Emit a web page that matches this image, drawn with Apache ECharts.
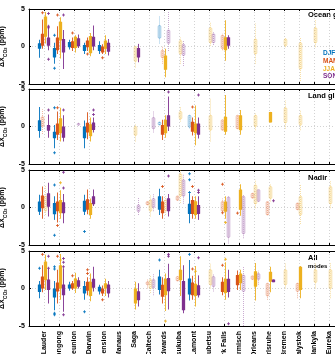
<!DOCTYPE html>
<html><head><meta charset="utf-8">
<script src="https://cdn.jsdelivr.net/npm/echarts@6/dist/echarts.min.js"></script>
<style>html,body{margin:0;padding:0;background:#fff}#c{width:335px;height:354px}</style>
</head><body><div id="c"></div>
<script>
const stations = ['Lauder','Wollongong','Reunion','Darwin','Ascension','Manaus','Saga','Caltech','Edwards','Tsukuba','Lamont','Rikubetsu','Park Falls','Garmisch','Orleans','Karlsruhe','Bremen','Bialystok','Sodankyla','Eureka'];
const seasons = ['DJF','MAM','JJA','SON'];
const seasonColors = ['#0072BD','#D95319','#EDB120','#7E2F8E'];
const panelTitles = ['Ocean glint','Land glint','Nadir','All modes'];
const yTicks = [-5, 0, 5];

// rows: [station (1-based), season index, low whisker, q1, median, q3, high whisker, faded]
const oceanBoxes = [
 [1,0,-1.5,-0.3,0.1,0.45,0.9,0],[1,1,-0.3,0.1,0.9,1.7,3.6,0],[1,2,0.4,1.3,3.0,4.0,4.6,0],[1,3,-0.5,0.1,0.7,1.2,2.6,0],
 [2,0,-2.3,-1.45,-0.8,-0.2,0.5,0],[2,1,-1.0,-0.5,0.3,1.2,2.7,0],[2,2,-1.6,0.8,2.0,3.3,3.9,0],[2,3,-3.0,-0.8,0.1,1.0,2.2,0],
 [3,0,-0.4,-0.1,0.2,0.6,0.9,0],[3,1,-0.6,-0.2,0.2,0.7,1.2,0],[3,2,-0.8,-0.2,0.5,1.3,1.5,0],[3,3,-0.2,0.05,0.6,1.1,1.6,0],
 [4,0,-1.0,-0.6,-0.2,0.2,0.5,0],[4,1,-0.6,-0.1,0.3,0.8,1.2,0],[4,2,-1.3,-0.9,0.2,1.4,1.8,0],[4,3,-0.5,0.0,0.6,1.3,2.8,0],
 [5,0,-1.0,-0.6,-0.2,0.2,0.7,0],[5,1,-1.0,-0.8,-0.4,0.0,0.3,0],[5,2,-1.0,-0.3,0.3,0.8,1.5,0],[5,3,-1.2,-0.7,-0.1,0.5,1.0,0],
 [7,2,-2.8,-2.0,-1.0,0.0,0.1,1],[7,3,-2.1,-1.45,-0.8,-0.2,0.35,0],
 [9,0,0.4,1.1,1.9,2.8,4.0,1],[9,1,-2.3,-1.5,-1.0,-0.5,0.0,1],[9,2,-4.1,-3.1,-2.0,-1.2,-0.3,0],[9,3,-0.6,0.4,1.3,2.2,4.6,1],
 [10,2,-2.3,-1.0,0.0,0.8,1.25,1],[10,3,-2.6,-1.2,-0.5,0.3,0.8,1],
 [12,2,0.1,0.5,1.5,2.5,3.3,1],[12,3,0.2,0.5,1.1,1.7,1.9,1],
 [13,1,-0.5,-0.3,0.5,1.5,1.7,1],[13,2,-1.9,-0.5,0.4,1.25,3.5,0],[13,3,-0.3,0.1,0.6,1.25,1.5,0],
 [15,2,-2.3,-1.0,0.0,1.0,3.1,1],[17,2,-0.1,0.1,0.5,1.0,1.25,1],[18,2,-4.6,-3.0,-1.0,0.5,1.25,1],[19,2,-0.1,0.5,1.5,2.5,3.5,1]
];
const oceanOutliers = [[1,1,4.5],[1,3,4.4],[1,3,2.7],[1,3,2.5],[1,3,-1.7],[2,0,1.5],[2,0,-2.9],[2,1,4.2],[2,3,4.2],[3,1,1.8],[4,1,-1.0],[5,1,-1.5]];

const landBoxes = [
 [1,0,-1.5,-0.6,0.1,0.85,2.6,0],[1,1,-1.0,0.0,0.6,1.3,2.3,1],[1,3,-1.5,-0.55,-0.1,0.2,1.6,0],
 [2,0,-2.9,-1.55,-1.1,-0.7,0.2,0],[2,1,-1.8,-1.1,-0.3,0.4,2.0,0],[2,2,-2.0,-0.9,0.2,1.1,2.5,0],[2,3,-2.0,-1.5,-0.7,0.0,1.5,0],
 [3,3,0.1,0.2,0.3,0.4,0.5,1],
 [4,0,-2.9,-1.55,-0.8,0.0,0.8,0],[4,1,-1.7,-0.8,-0.1,0.5,1.9,0],[4,2,-2.0,-1.3,-0.5,0.3,1.2,0],[4,3,-0.8,-0.45,0.1,0.55,1.2,0],
 [7,2,-2.0,-1.2,-0.5,0.0,0.4,1],[8,3,-0.8,-0.3,0.4,1.2,2.0,1],
 [9,0,0.2,0.2,0.4,0.6,0.6,1],[9,1,-1.8,-1.1,-0.4,0.2,0.9,0],[9,2,-1.5,-0.9,0.0,0.9,1.5,0],[9,3,-0.6,0.0,0.8,1.5,4.0,0],
 [10,2,0.65,1.0,1.5,2.0,2.6,1],
 [11,0,-0.25,-0.1,0.5,1.5,1.6,1],[11,1,-1.2,-0.7,0.0,0.65,1.2,0],[11,2,-2.5,-0.9,-0.2,0.4,2.8,0],[11,3,-1.6,-1.1,-0.5,0.4,1.2,0],
 [12,2,-2.0,-0.5,0.5,1.5,3.7,1],
 [13,1,-0.5,-0.5,0.2,0.9,0.9,1],[13,2,-1.1,-0.7,0.3,1.3,4.2,0],
 [14,1,-0.3,-0.3,0.6,1.5,1.5,1],[14,2,-1.1,-0.5,0.5,1.5,2.2,0],
 [15,2,-0.5,0.0,0.8,1.5,1.75,1],[16,2,0.55,0.55,1.2,1.95,1.95,0],[17,2,-0.3,0.5,1.5,2.5,3.5,1],[18,2,-0.5,0.2,0.8,1.5,2.2,1]
];
const landOutliers = [[1,3,2.2],[2,0,2.5],[2,0,-3.5],[2,1,2.5],[2,3,2.2],[4,3,1.6],[4,3,2.2],[9,3,4.6],[11,1,2.6],[11,3,4.2]];

const nadirBoxes = [
 [1,0,-1.0,-0.55,0.1,0.8,1.7,0],[1,1,-1.5,-0.1,0.7,1.6,2.8,0],[1,2,-1.0,-0.5,0.5,1.5,3.0,1],[1,3,-1.2,0.1,1.0,1.9,3.3,0],
 [2,0,-1.65,-0.9,-0.2,0.6,1.5,0],[2,1,-2.0,-0.5,0.1,0.8,2.0,0],[2,2,-1.5,-0.75,0.1,1.0,2.3,0],[2,3,-2.1,-0.75,0.0,0.7,1.8,0],
 [4,0,-1.0,-0.55,0.2,0.9,1.7,0],[4,1,-0.9,-0.3,0.4,1.1,2.4,0],[4,2,-1.5,-1.0,-0.2,0.6,1.2,0],[4,3,0.2,0.45,1.0,1.5,2.4,0],
 [7,3,-1.0,-0.55,-0.1,0.35,1.3,1],
 [8,1,0.35,0.35,0.6,0.8,0.8,1],[8,2,-1.2,-0.5,0.2,1.0,1.7,1],[8,3,-0.5,0.0,0.6,1.2,1.9,1],
 [9,0,-1.0,-0.3,0.6,1.5,2.5,0],[9,1,-1.5,-0.75,0.0,0.8,1.5,0],[9,2,-1.0,-0.5,0.3,1.0,1.5,1],[9,3,-1.2,-0.5,0.4,1.25,1.8,0],
 [10,1,0.95,0.95,1.2,1.55,1.55,1],[10,2,0.6,1.5,3.0,4.5,5.0,1],[10,3,0.5,1.5,2.5,3.7,4.5,1],
 [11,0,-2.1,-0.85,-0.2,0.5,1.8,0],[11,1,-1.5,-0.85,0.1,1.0,1.5,0],[11,2,-1.5,-1.0,0.0,0.85,1.5,0],[11,3,-1.65,-0.85,-0.3,0.35,1.5,0],
 [13,1,-0.5,-0.5,0.2,0.8,1.2,1],[13,2,-1.5,-0.55,0.1,0.8,1.5,0],[13,3,-4.8,-4.0,-1.0,1.4,1.6,1],
 [14,2,-1.1,-0.3,1.0,2.4,3.1,0],[14,3,-4.1,-3.5,-1.0,1.5,1.7,1],
 [15,1,1.25,1.25,1.5,1.9,1.9,1],[15,2,-0.1,0.5,1.8,3.0,3.7,1],[15,3,0.8,0.8,1.5,2.4,2.4,1],
 [16,1,-1.0,-1.0,-0.2,0.8,0.8,1],[16,2,0.8,1.2,2.0,2.8,3.2,1],
 [18,1,-0.3,-0.3,0.2,0.6,0.6,1],[18,2,-2.2,-1.0,0.3,1.5,3.1,1],[20,2,-0.1,0.5,1.5,2.8,3.6,1]
];
const nadirOutliers = [[2,0,3.0],[2,0,-3.7],[2,1,-2.4],[2,2,3.3],[2,3,4.7],[2,3,2.6],[4,0,-3.2],[9,1,2.8],[9,3,4.2],
 [11,0,4.5],[11,0,3.7],[11,0,2.0],[11,1,2.8],[11,3,2.3],[11,3,2.0],[13,1,3.1],[13,1,-0.7],[13,2,-2.0],[14,1,-0.75],[16,3,0.9]];

const allBoxes = [
 [1,0,-1.3,-0.45,0.0,0.55,1.0,0],[1,1,-0.5,0.0,0.8,1.6,3.1,0],[1,2,-0.2,1.1,2.5,3.6,4.5,0],[1,3,-2.0,-0.2,0.5,1.2,2.6,0],
 [2,0,-2.9,-1.2,-0.6,0.0,1.0,0],[2,1,-2.0,-0.4,0.2,0.8,2.5,0],[2,2,-1.5,0.0,1.5,3.1,4.6,0],[2,3,-3.1,-0.9,-0.2,0.55,2.7,0],
 [3,0,-0.3,0.0,0.3,0.55,0.9,0],[3,1,-0.2,0.0,0.35,0.7,1.0,0],[3,2,-0.6,0.0,0.7,1.35,2.1,0],[3,3,0.0,0.25,0.7,1.1,1.5,0],
 [4,0,-1.5,-0.65,-0.2,0.35,1.0,0],[4,1,-0.9,-0.3,0.3,0.9,1.5,0],[4,2,-1.7,-1.0,0.0,0.9,2.0,0],[4,3,-0.4,0.1,0.7,1.3,2.9,0],
 [5,0,-0.8,-0.4,0.0,0.25,0.5,0],[5,1,-1.0,-0.65,-0.3,0.0,0.4,0],[5,2,-1.0,0.0,0.4,0.7,1.3,0],[5,3,-1.2,-0.65,0.0,0.55,1.0,0],
 [7,2,-2.8,-2.0,-1.0,0.0,0.9,0],[7,3,-2.4,-1.55,-1.0,-0.35,0.7,0],
 [8,1,0.0,0.5,0.7,0.9,1.3,1],[8,2,-0.6,0.0,0.5,1.2,1.7,1],[8,3,-0.9,0.1,0.6,1.2,2.0,1],
 [9,0,-0.8,-0.2,0.7,1.6,2.5,0],[9,1,-2.0,-1.1,-0.3,0.5,1.5,0],[9,2,-3.0,-0.9,0.2,1.3,2.0,0],[9,3,-2.8,-0.35,0.5,1.4,3.3,0],
 [10,1,1.0,1.0,1.3,1.6,1.6,1],[10,2,-1.0,1.1,1.8,2.5,4.3,0],[10,3,-3.3,-2.9,-1.0,1.0,3.1,0],
 [11,0,-1.6,-0.8,0.3,1.35,3.8,0],[11,1,-1.5,-0.9,0.0,0.8,1.7,0],[11,2,-2.4,-1.0,-0.2,0.65,3.0,0],[11,3,-1.2,-0.9,-0.3,0.45,1.75,0],
 [12,2,0.0,0.5,1.5,2.5,3.3,1],[12,3,-0.4,0.25,0.9,1.6,2.0,1],
 [13,1,-0.9,-0.45,0.2,0.9,1.5,0],[13,2,-1.5,-0.6,0.3,1.3,3.5,0],[13,3,-1.2,-0.45,0.4,1.3,2.5,0],
 [14,1,-0.2,0.45,1.2,1.8,2.4,0],[14,2,-0.2,0.7,1.4,2.0,2.5,0],[14,3,-5.0,-0.4,0.7,1.8,3.0,1],
 [15,1,1.2,1.2,1.45,1.7,1.7,1],[15,2,-1.6,0.25,1.3,2.3,3.4,0],[15,3,0.5,1.2,1.6,2.0,2.4,1],
 [16,1,-1.5,-1.0,-0.2,0.7,0.7,1],[16,2,-0.5,0.9,1.5,2.25,2.9,0],[16,3,0.85,0.85,1.0,1.2,1.2,0],
 [17,2,0.0,0.5,1.5,2.5,3.4,1],[18,1,-1.3,-0.4,0.1,0.7,0.7,1],[18,2,-1.3,-0.2,1.0,2.9,3.0,0],
 [19,2,0.0,0.8,1.5,2.5,3.4,1],[20,2,-1.3,0.0,1.0,2.5,3.5,1]
];
const allOutliers = [[1,0,2.7],[1,1,4.55],[1,3,4.3],[1,3,2.7],[2,0,2.9],[2,0,2.6],[2,0,-3.3],[2,0,-3.5],[2,1,4.3],[2,2,3.8],
 [2,3,4.0],[2,3,3.5],[2,3,2.9],[2,3,-3.5],[3,1,1.7],[4,0,-3.1],[4,1,2.5],[4,1,2.0],[5,1,-1.5],[9,0,3.8],[9,2,-4.35],
 [9,3,4.55],[9,3,4.3],[11,0,4.55],[11,1,2.6],[11,2,2.3],[11,3,4.1],[13,1,3.1],[13,2,3.9],[13,3,-4.7]];

const panelBoxes = [oceanBoxes, landBoxes, nadirBoxes, allBoxes];
const panelOutliers = [oceanOutliers, landOutliers, nadirOutliers, allOutliers];

// layout
const seasonOffsets = [-0.3, -0.1, 0.1, 0.3];
const boxWidth = 0.22;
const gridTops = [9, 89, 170, 251];
const gridH = 75;
const FONT = 'Liberation Sans, Arial, sans-serif';

function rgba(hex, a) {
  const n = parseInt(hex.slice(1), 16);
  return 'rgba(' + ((n >> 16) & 255) + ',' + ((n >> 8) & 255) + ',' + (n & 255) + ',' + a + ')';
}

function boxRender(params, api) {
  const se = api.value(1);
  const x = api.value(0) + seasonOffsets[se];
  const faded = api.value(7) === 1;
  const c = seasonColors[se];
  const pLo = api.coord([x, api.value(2)]);
  const pQ1 = api.coord([x, api.value(3)]);
  const pQ3 = api.coord([x, api.value(5)]);
  const pHi = api.coord([x, api.value(6)]);
  const w = api.size([boxWidth, 0])[0] * (faded ? 0.85 : 1);
  const h = Math.max(1.5, pQ1[1] - pQ3[1]);
  return {
    type: 'group',
    children: [
      { type: 'line', shape: { x1: pLo[0], y1: pLo[1], x2: pHi[0], y2: pHi[1] },
        style: { stroke: faded ? rgba(c, 0.4) : c, lineWidth: faded ? 1 : 0.9, lineDash: faded ? [1, 1] : null } },
      { type: 'rect', shape: { x: pQ3[0] - w / 2, y: pQ3[1], width: w, height: h, r: faded ? 1.2 : 0.3 },
        style: faded ? { fill: rgba(c, 0.14), stroke: rgba(c, 0.42), lineWidth: 0.7 } : { fill: c } }
    ]
  };
}

function outlierRender(params, api) {
  const se = api.value(1);
  const p = api.coord([api.value(0) + seasonOffsets[se], api.value(2)]);
  const c = seasonColors[se];
  const a = 1.5;
  return {
    type: 'group',
    children: [
      { type: 'line', shape: { x1: p[0] - a, y1: p[1], x2: p[0] + a, y2: p[1] }, style: { stroke: c, lineWidth: 0.8 } },
      { type: 'line', shape: { x1: p[0], y1: p[1] - a, x2: p[0], y2: p[1] + a }, style: { stroke: c, lineWidth: 0.8 } }
    ]
  };
}

const grids = [], xAxes = [], yAxes = [], series = [];
for (let i = 0; i < 4; i++) {
  grids.push({ left: 29, width: 315, top: gridTops[i], height: gridH, containLabel: false, outerBoundsMode: 'none' });
  const last = i === 3;
  xAxes.push({
    type: 'value', gridIndex: i, min: 0, max: 21, interval: 1, position: 'bottom',
    axisLine: { show: true, onZero: false, lineStyle: { color: '#000', width: 1 } },
    axisTick: { show: true, inside: true, length: 2, lineStyle: { color: '#000' } },
    splitLine: { show: true, lineStyle: { color: '#c8c8c8', type: [1, 2], width: 0.8 } },
    axisLabel: last ? {
      show: true, rotate: 90, margin: 5, fontSize: 7, fontWeight: 'bold', color: '#000', fontFamily: FONT,
      formatter: v => (v >= 1 && v <= stations.length) ? stations[v - 1] : ''
    } : { show: false }
  });
  xAxes.push({
    type: 'value', gridIndex: i, min: 0, max: 21, interval: 1, position: 'top',
    axisLine: { show: true, onZero: false, lineStyle: { color: '#000', width: 1 } },
    axisTick: { show: true, inside: true, length: 2, lineStyle: { color: '#000' } },
    splitLine: { show: false }, axisLabel: { show: false }
  });
  yAxes.push({
    type: 'value', gridIndex: i, min: yTicks[0], max: yTicks[yTicks.length - 1], interval: 5,
    axisLine: { show: true, onZero: false, lineStyle: { color: '#000', width: 1 } },
    axisTick: { show: true, inside: true, length: 2, lineStyle: { color: '#000' } },
    splitLine: { show: true, lineStyle: { color: '#c8c8c8', type: [1, 2], width: 0.8 } },
    axisLabel: { fontSize: 7, fontWeight: 'bold', color: '#000', margin: 4, fontFamily: FONT },
    name: '{a|ΔX}{b|CO}{c|2}{a| (ppm)}', nameLocation: 'middle', nameGap: 12,
    nameTextStyle: {
      color: '#000', fontFamily: FONT,
      rich: {
        a: { fontSize: 7, fontWeight: 'bold', color: '#000', fontFamily: FONT, lineHeight: 12, verticalAlign: 'middle' },
        b: { fontSize: 5, fontWeight: 'bold', color: '#000', fontFamily: FONT, lineHeight: 12, verticalAlign: 'bottom' },
        c: { fontSize: 4, fontWeight: 'bold', color: '#000', fontFamily: FONT, lineHeight: 12, verticalAlign: 'bottom', padding: [3, 0, 0, 0] }
      }
    }
  });
  series.push({
    type: 'custom', xAxisIndex: 2 * i, yAxisIndex: i, renderItem: boxRender,
    encode: { x: 0, y: [2, 6] }, data: panelBoxes[i], silent: true, animation: false
  });
  series.push({
    type: 'custom', xAxisIndex: 2 * i, yAxisIndex: i, renderItem: outlierRender,
    encode: { x: 0, y: 2 }, data: panelOutliers[i], silent: true, animation: false
  });
}

const graphics = [];
const titleY = [15, 96, 178, 259];
for (let i = 0; i < 4; i++) {
  if (i === 3) {
    const parts = panelTitles[3].split(' ');
    graphics.push({ type: 'text', left: 308, top: titleY[i] - 5, style: { text: parts[0], font: 'bold 7.5px ' + FONT, fill: '#000' } });
    graphics.push({ type: 'text', left: 308, top: titleY[i] + 4, style: { text: parts[1], font: 'bold 6px ' + FONT, fill: '#000' } });
  } else {
    graphics.push({ type: 'text', left: 308, top: titleY[i] - 4, style: { text: panelTitles[i], font: 'bold 7.5px ' + FONT, fill: '#000' } });
  }
}
const legendY = [53, 61, 69, 76];
seasons.forEach((s, k) => {
  graphics.push({ type: 'text', left: 323, top: legendY[k] - 3.5, style: { text: s, font: 'bold 6.5px ' + FONT, fill: seasonColors[k] } });
});

const chart = echarts.init(document.getElementById('c'), null, { renderer: 'canvas' });
chart.setOption({
  animation: false,
  backgroundColor: '#fff',
  grid: grids, xAxis: xAxes, yAxis: yAxes, series: series, graphic: graphics
});
</script></body></html>
